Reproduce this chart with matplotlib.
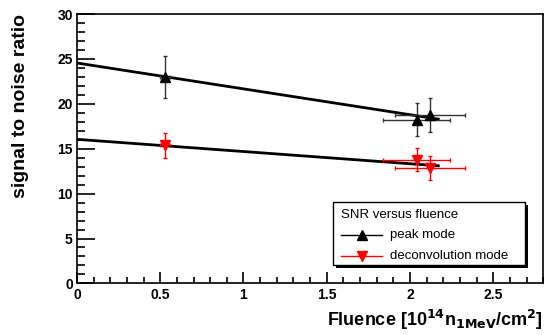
import numpy as np
import matplotlib.pyplot as plt
from matplotlib.ticker import MultipleLocator
from matplotlib.patches import Rectangle

plt.rcParams['font.family'] = ['Liberation Sans', 'DejaVu Sans']

# fluence in 1e14 n_1MeV/cm^2
fluence = [0.53, 2.04, 2.12]
fluence_err = [0.03, 0.20, 0.21]

peak_snr = [23.0, 18.25, 18.75]
peak_err = [2.35, 1.8, 1.9]

deconv_snr = [15.4, 13.8, 12.85]
deconv_err = [1.4, 1.3, 1.3]

# linear fits, drawn over fit range
fit_x = [0.0, 2.17]
peak_fit = [24.55, 18.3]
deconv_fit = [16.05, 13.1]

fig = plt.figure(figsize=(5.44, 3.35), dpi=100)
ax = fig.add_axes([0.1415, 0.154, 0.857, 0.804])

ax.plot(fit_x, peak_fit, color='black', lw=2, zorder=3)
ax.plot(fit_x, deconv_fit, color='black', lw=2, zorder=3)

ax.errorbar(fluence, peak_snr, xerr=fluence_err, yerr=peak_err, fmt='^',
            color='black', ms=7, ecolor='#333333', elinewidth=1, capsize=1.5,
            label='peak mode', zorder=4)
ax.errorbar(fluence, deconv_snr, xerr=fluence_err, yerr=deconv_err, fmt='v',
            color='red', ms=7.5, ecolor='red', elinewidth=1, capsize=1.5,
            label='deconvolution mode', zorder=4)

ax.set_xlim(0, 2.8)
ax.set_ylim(0, 30)
ax.xaxis.set_major_locator(MultipleLocator(0.5))
ax.xaxis.set_minor_locator(MultipleLocator(0.1))
ax.yaxis.set_major_locator(MultipleLocator(5))
ax.yaxis.set_minor_locator(MultipleLocator(1))
ax.set_xticks([0, 0.5, 1, 1.5, 2, 2.5])
ax.set_xticklabels(['0', '0.5', '1', '1.5', '2', '2.5'])
ax.tick_params(which='both', direction='in', top=False, right=False,
               labelsize=10, width=1.2)
ax.tick_params(which='major', axis='y', length=13, pad=3)
ax.tick_params(which='minor', axis='y', length=6)
ax.tick_params(which='major', axis='x', length=8, pad=3)
ax.tick_params(which='minor', axis='x', length=4.5)
for lab in ax.get_xticklabels() + ax.get_yticklabels():
    lab.set_fontweight('bold')
for s in ax.spines.values():
    s.set_linewidth(1.2)

ax.set_ylabel('signal to noise ratio', fontsize=14, fontweight='bold')
ax.yaxis.set_label_coords(-0.103, 1.0)
ax.yaxis.label.set_horizontalalignment('right')
ax.set_xlabel(r'Fluence [10$^{\mathbf{14}}$n$_{\mathbf{1MeV}}$/cm$^{\mathbf{2}}$]',
              fontsize=13, fontweight='bold')
ax.xaxis.set_label_coords(1.0, -0.09)
ax.xaxis.label.set_horizontalalignment('right')

# legend box with shadow, ROOT style
lx0, ly0, lw, lh = 333 / 544, (335 - 265) / 335, 192 / 544, 63 / 335
fig.patches.append(Rectangle((lx0 + 0.006, ly0 - 0.01), lw, lh, transform=fig.transFigure,
                             facecolor='black', edgecolor='none', zorder=5))
fig.patches.append(Rectangle((lx0, ly0), lw, lh, transform=fig.transFigure,
                             facecolor='white', edgecolor='black', lw=1, zorder=6))
fig.text(lx0 + 0.015, ly0 + lh * 0.80, 'SNR versus fluence', fontsize=9.5,
         va='center', zorder=7)
leg_labels = ['peak mode', 'deconvolution mode']
leg_colors = ['black', 'red']
leg_markers = ['^', 'v']
for i in range(2):
    yy = ly0 + lh * (0.47 - 0.33 * i)
    fig.add_artist(plt.Line2D([lx0 + 0.015, lx0 + 0.09], [yy, yy], color=leg_colors[i],
                              lw=1, transform=fig.transFigure, zorder=7))
    fig.add_artist(plt.Line2D([lx0 + 0.0525], [yy], marker=leg_markers[i], color=leg_colors[i],
                              ms=7, transform=fig.transFigure, zorder=7))
    fig.text(lx0 + 0.105, yy, leg_labels[i], fontsize=9.5, va='center', zorder=7)

fig.savefig('out.png', dpi=100)
